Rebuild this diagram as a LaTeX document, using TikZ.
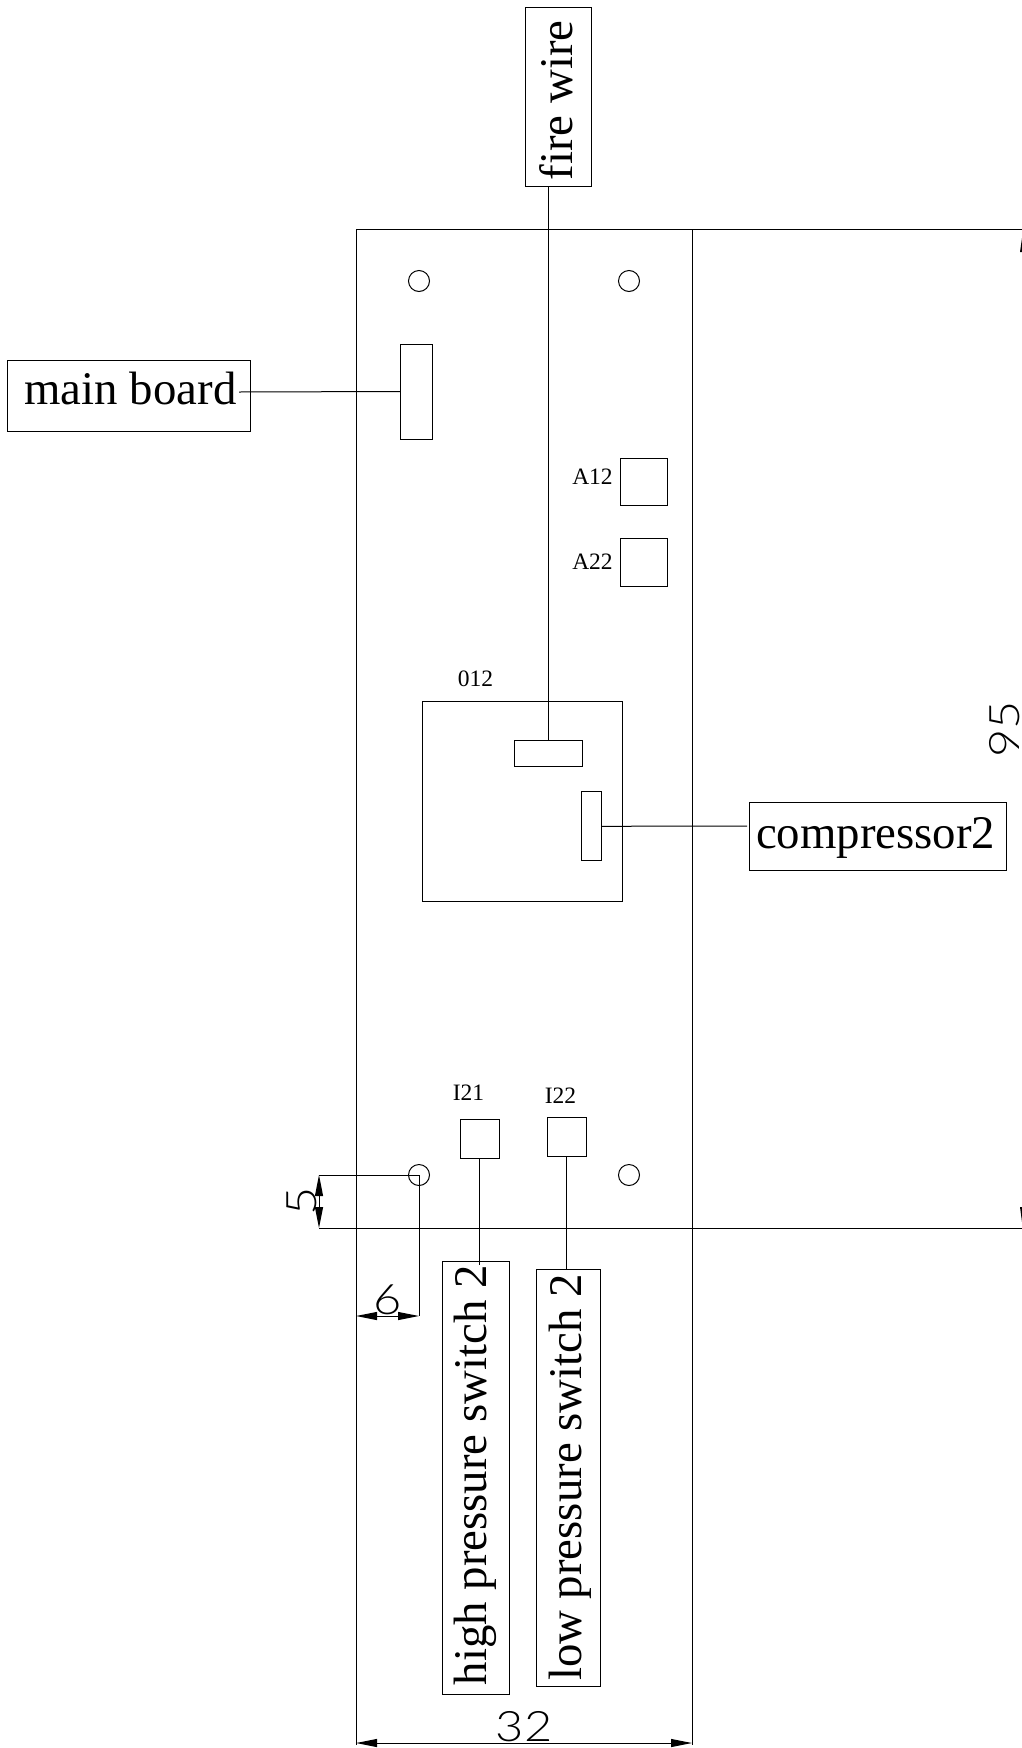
\documentclass[tikz,border=0pt]{standalone}
\usepackage{fontspec}
\setmainfont{Liberation Serif}
\newfontfamily\cadfont[FakeStretch=1.16]{Lato Light}
\usetikzlibrary{arrows.meta}
\tikzset{
	box/.style={draw, inner sep=0pt, outer sep=0pt, line width=1pt},
	callout/.style={box, font=\fontsize{46.8}{46}\selectfont},
	tag/.style={inner sep=0pt, font=\fontsize{23.5}{24}\selectfont},
	hole/.style={draw, circle, inner sep=0pt, minimum size=21pt, line width=1pt},
	dimtext/.style={inner sep=0pt, font=\cadfont\fontsize{42}{44}\selectfont},
	dimline/.style={arrows={Triangle[length=21pt,width=8pt]-Triangle[length=21pt,width=8pt]}, line width=1pt},
}
\begin{document}
\begin{tikzpicture}[x=1pt, y=-1pt, line width=1pt]
	\useasboundingbox (0,0) rectangle (1022,1748);
	\clip (0,0) rectangle (1022,1748);
	\coordinate (frametl) at (356,229);
	\coordinate (framebl) at (356,1745);
	\coordinate (frametr) at (692,229);
	\coordinate (framebr) at (692,1745);
	\coordinate (edgetop) at (1022,229);
	\coordinate (edgebot) at (1022,1228);
	\coordinate (dimfivelow) at (319,1228);
	\coordinate (dimfivehigh) at (319,1175);
	\coordinate (dimsixleft) at (356,1316);
	\coordinate (dimsixright) at (419,1316);
	\coordinate (dimwideleft) at (356,1743);
	\coordinate (dimwideright) at (692,1743);
	\coordinate (mainend) at (239,392);
	\coordinate (compend) at (747,826);
	\draw (frametl) -- (framebl);
	\draw (frametr) -- (framebr);
	\draw (frametl) -- (edgetop);
	\draw (dimfivelow) -- (edgebot);
	\node[hole] (holetl) at (419,281) {};
	\node[hole] (holetr) at (629,281) {};
	\node[hole] (holebl) at (419,1175) {};
	\node[hole] (holebr) at (629,1175) {};
	\node[callout, text height=30pt, text depth=14.6pt, minimum width=243pt, minimum height=71pt] (mainboard) at (128.5,396.3) {\hspace*{4pt}main board};
	\node[box, minimum width=32pt, minimum height=95pt] (mainconn) at (416,391.5) {};
	\node[callout, rotate=90, text height=32pt, text depth=4pt, minimum width=179pt, minimum height=66pt] (firewire) at (558,96.5) {fire wire\hspace*{8pt}};
	\node[box, minimum width=47pt, minimum height=47pt] (relaya) at (644,481.5) {};
	\node[box, minimum width=47pt, minimum height=48pt] (relayb) at (644,562) {};
	\node[tag] (relayatag) at (592.5,476.5) {A12};
	\node[tag] (relaybtag) at (592.5,561.5) {A22};
	\node[box, minimum width=200pt, minimum height=200pt] (module) at (522,801) {};
	\node[tag] (moduletag) at (475.5,679) {012};
	\node[box, minimum width=68pt, minimum height=26pt] (topconn) at (548.5,753) {};
	\node[box, minimum width=20pt, minimum height=69pt] (sideconn) at (591.7,826.3) {};
	\node[callout, text height=31pt, text depth=7pt, minimum width=256.5pt, minimum height=68pt] (compressor) at (878.2,836) {compressor2\hspace*{5pt}};
	\node[box, minimum width=39pt, minimum height=39pt] (switcha) at (479.5,1138.5) {};
	\node[box, minimum width=39pt, minimum height=39pt] (switchb) at (566.5,1136.5) {};
	\node[tag] (switchatag) at (468.5,1093) {I21};
	\node[tag] (switchbtag) at (560.5,1095.5) {I22};
	\node[callout, rotate=90, minimum width=433pt, minimum height=67.6pt] (highswitch) at (475.8,1478.3) {\hspace*{6pt}high pressure switch 2};
	\node[callout, rotate=90, text height=31.7pt, text depth=7.1pt, minimum width=417pt, minimum height=64pt] (lowswitch) at (568.7,1477.5) {low pressure switch 2};
	\draw (mainend) -- (mainconn.west);
	\draw (topconn.north |- firewire.west) -- (topconn.north);
	\draw (sideconn.east) -- (compend);
	\draw (switcha.south) -- ([yshift=-3pt]switcha.south |- highswitch.east);
	\draw (switchb.south) -- (switchb.south |- lowswitch.east);
	\draw (dimfivehigh) -- (holebl.center);
	\draw (holebl.center) -- (dimsixright);
	\draw[dimline] (dimfivehigh) -- (dimfivelow);
	\draw[dimline] (dimsixleft) -- (dimsixright);
	\draw[dimline] (dimwideleft) -- (dimwideright);
	\node[dimtext, rotate=90] (dimfive) at (302,1201) {5};
	\node[dimtext] (dimsix) at (388,1300) {6};
	\node[dimtext] (dimwide) at (524,1727) {32};
	\node[dimtext, rotate=90] (dimheight) at (1005,729) {95};
	\fill (1020,252) -- (1022,238) -- (1022,252) -- cycle;
	\fill (1020,1207) -- (1022,1207) -- (1022,1222) -- cycle;
\end{tikzpicture}
\end{document}
